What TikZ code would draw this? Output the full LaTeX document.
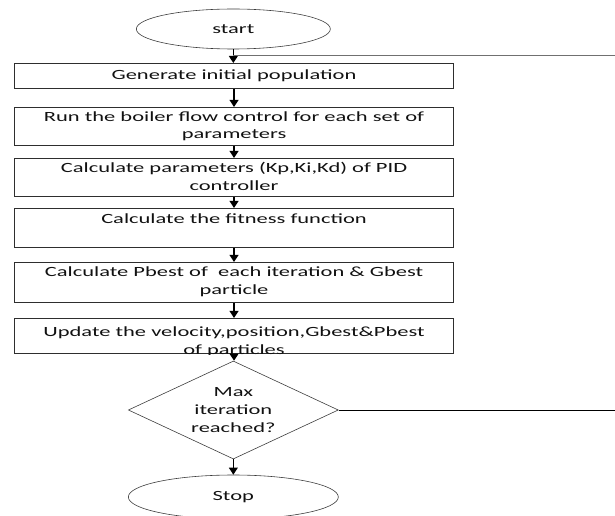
\documentclass[tikz,border=0pt]{standalone}
\usepackage{fontspec}
\setmainfont{Carlito}[FakeStretch=1.6]
\usetikzlibrary{shapes.geometric,arrows.meta,positioning,calc}
\definecolor{boxline}{HTML}{2E2E2E}
\definecolor{thinline}{HTML}{3A3A3A}
\definecolor{loopgray}{HTML}{707070}
\definecolor{darktext}{HTML}{111111}

\tikzset{
  stepbox/.style={draw=boxline, line width=0.9pt, minimum width=13.17cm, anchor=north west, inner sep=0pt},
  steptext/.style={anchor=north, align=center, inner sep=0pt, text=darktext, font=\fontsize{12}{15}\selectfont},
  termnode/.style={draw=thinline, ellipse, line width=0.5pt, inner sep=0pt, text=darktext, font=\fontsize{12}{15}\selectfont},
  decnode/.style={draw=thinline, diamond, aspect=2.1, line width=0.5pt, inner sep=0pt, align=center, minimum width=6.3cm, minimum height=2.94cm, text=darktext, font=\fontsize{12}{15}\selectfont},
  flow/.style={-{Triangle[width=7.5pt,length=6pt]}, line width=1.2pt, black},
}

\begin{document}
\begin{tikzpicture}
\useasboundingbox (0,0) rectangle (18.45,-15.48);

\node[termnode, minimum width=5.82cm, minimum height=1.2cm] (start) at (7.0,-0.87) {start};

\node[stepbox, minimum height=0.75cm] (b1) at (0.42,-1.89) {};
\node[steptext, anchor=center] (t1) at (b1.center) {Generate initial population};

\node[stepbox, minimum height=1.14cm] (b2) at (0.42,-3.21) {};
\node[steptext] (t2) at ([yshift=-0.13cm]b2.north) {Run the boiler flow control for each set of\\parameters};

\node[stepbox, minimum height=1.14cm] (b3) at (0.42,-4.74) {};
\node[steptext] (t3) at ([yshift=-0.13cm]b3.north) {Calculate parameters (Kp,Ki,Kd) of PID\\controller};

\node[stepbox, minimum height=1.17cm] (b4) at (0.42,-6.24) {};
\node[steptext] (t4) at ([yshift=-0.17cm]b4.north) {Calculate the fitness function};

\node[stepbox, minimum height=1.2cm] (b5) at (0.42,-7.86) {};
\node[steptext] (t5) at ([yshift=-0.15cm]b5.north) {Calculate Pbest of\ \ each iteration \& Gbest\\particle};

\node[stepbox, minimum height=1.05cm] (b6) at (0.42,-9.54) {};
\begin{scope}
\clip (b6.north west) rectangle (b6.south east);
\node[steptext] (t6) at ([yshift=-0.27cm]b6.north) {Update the velocity,position,Gbest\&Pbest\\of particles};
\end{scope}

\node[decnode] (dec) at (7.0,-12.3) {Max\\iteration\\reached?};

\node[termnode, minimum width=6.3cm, minimum height=1.32cm] (stop) at (7.0,-14.91) {Stop};

\draw[flow] (start.south) -- (start.south |- b1.north);
\draw[flow] (b1.south) -- (b2.north);
\draw[flow] (b2.south) -- (b3.north);
\draw[flow] (b3.south) -- (b4.north);
\draw[flow] (b4.south) -- (b5.north);
\draw[flow] (b5.south) -- (b6.north);
\draw[flow] (b6.south) -- (b6.south |- dec.north);
\draw[flow] (dec.south) -- (stop.north);

\coordinate (loopin) at (7.0,-1.65);
\coordinate (loopend) at (18.45,-1.65);
\draw[loopgray, line width=0.6pt] (loopin) -- (loopend);
\coordinate (loopout) at (18.45,-12.3);
\draw[black, line width=0.7pt] (dec.east) -- (loopout);
\end{tikzpicture}
\end{document}
